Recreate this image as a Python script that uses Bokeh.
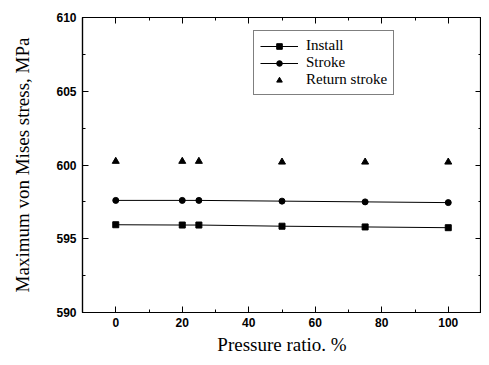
from bokeh.plotting import figure
from bokeh.models import (Range1d, LinearAxis, Legend, LegendItem, FixedTicker,
                          CustomJSTickFormatter, CustomLabelingPolicy)
from bokeh.embed import file_html
from bokeh.resources import INLINE

pressure = [0, 20, 25, 50, 75, 100]
install = [595.95, 595.93, 595.93, 595.85, 595.8, 595.75]
stroke = [597.6, 597.6, 597.6, 597.55, 597.5, 597.45]
return_stroke = [600.25, 600.25, 600.25, 600.2, 600.2, 600.2]

x_ticks = [0, 20, 40, 60, 80, 100]
y_ticks = [590, 595, 600, 605, 610]
x_minor = list(range(-10, 111, 10))
y_minor = [590 + 2.5 * i for i in range(9)]

p = figure(width=481, height=357, output_backend="svg", toolbar_location=None,
           x_range=Range1d(-10, 110), y_range=Range1d(590, 610),
           min_border_left=82, min_border_right=0, min_border_top=17, min_border_bottom=42)
p.xgrid.visible = False
p.ygrid.visible = False
p.outline_line_color = "black"
p.outline_line_width = 1.2
p.background_fill_color = "white"
p.border_fill_color = "white"

def style_axis(ax):
    ax.major_tick_in = 6
    ax.major_tick_out = 0
    ax.minor_tick_in = 3
    ax.minor_tick_out = 0
    ax.axis_line_color = "black"
    ax.axis_line_width = 1.2
    ax.major_tick_line_color = "black"
    ax.minor_tick_line_color = "black"
    ax.major_label_text_font = "Liberation Sans"
    ax.major_label_text_font_size = "12px"
    ax.major_label_text_font_style = "bold"
    ax.major_label_text_color = "black"
    ax.axis_label_text_font = "Liberation Serif"
    ax.axis_label_text_font_size = "19px"
    ax.axis_label_text_font_style = "normal"
    ax.axis_label_text_color = "black"

xa = p.xaxis[0]
xa.ticker = FixedTicker(ticks=x_ticks, minor_ticks=x_minor)
xa.axis_label = "Pressure ratio. %"
style_axis(xa)
xa.major_label_standoff = 5
xa.axis_label_standoff = 4

ya = p.yaxis[0]
ya.ticker = FixedTicker(ticks=y_ticks, minor_ticks=y_minor)
ya.axis_label = "Maximum von Mises stress, MPa"
style_axis(ya)
ya.major_label_standoff = 6
ya.axis_label_standoff = 20

empty = CustomJSTickFormatter(code="return '';")
hide_all = CustomLabelingPolicy(code="""
    for (const i of indices) { indices.unset(i) }
    return indices
""")
top = LinearAxis(ticker=FixedTicker(ticks=x_ticks, minor_ticks=x_minor), formatter=empty,
                 major_label_policy=hide_all)
style_axis(top)
top.major_label_standoff = 0
top.axis_label_standoff = 0
top.major_label_text_font_size = "1px"
p.add_layout(top, "above")
right = LinearAxis(ticker=FixedTicker(ticks=y_ticks, minor_ticks=y_minor), formatter=empty,
                   major_label_policy=hide_all)
style_axis(right)
right.major_label_standoff = 0
right.axis_label_standoff = 0
right.major_label_text_font_size = "1px"
p.add_layout(right, "right")

l1 = p.line(pressure, install, line_color="black", line_width=1)
s1 = p.scatter(pressure, install, marker="square", size=6, color="black")
l2 = p.line(pressure, stroke, line_color="black", line_width=1)
s2 = p.scatter(pressure, stroke, marker="circle", size=6, color="black")
s3 = p.scatter(pressure, return_stroke, marker="triangle", size=7, color="black")

legend = Legend(items=[
    LegendItem(label="Install", renderers=[l1, s1]),
    LegendItem(label="Stroke", renderers=[l2, s2]),
    LegendItem(label="Return stroke", renderers=[s3]),
], location=(171, 217))
legend.label_text_font = "Liberation Serif"
legend.label_text_font_size = "15px"
legend.label_text_color = "black"
legend.glyph_width = 38
legend.glyph_height = 14
legend.label_height = 14
legend.spacing = 0
legend.padding = 6
legend.margin = 0
legend.border_line_color = "black"
legend.border_line_width = 1
legend.background_fill_alpha = 1
legend.label_standoff = 8
p.add_layout(legend, "center")

open("out.html", "w").write(file_html(p, INLINE))
